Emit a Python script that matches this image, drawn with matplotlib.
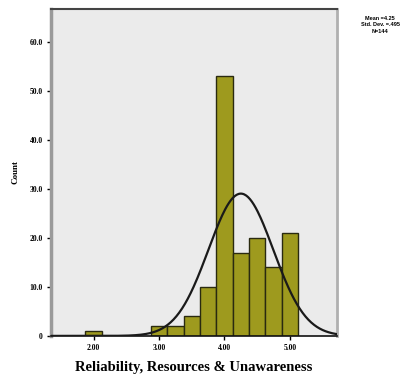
import numpy as np
import matplotlib
matplotlib.use('Agg')
import matplotlib.pyplot as plt

# histogram bins (centre values) and counts
bin_centers = [2.00, 3.00, 3.25, 3.50, 3.75, 4.00, 4.25, 4.50, 4.75, 5.00]
counts = [1, 2, 2, 4, 10, 53, 17, 20, 14, 21]
bin_width = 0.25

mean = 4.25
std = 0.495
n = 144

y_ticks = [0, 10, 20, 30, 40, 50, 60]
y_labels = ['0', '10.0', '20.0', '30.0', '40.0', '50.0', '60.0']
x_ticks = [2, 3, 4, 5]
x_labels = ['2.00', '3.00', '4.00', '5.00']

fig = plt.figure(figsize=(4.09, 3.83), dpi=100)
ax = fig.add_axes([0.125, 0.123, 0.699, 0.854])
ax.set_facecolor('#ebebeb')

ax.bar(bin_centers, counts, width=bin_width, color='#9e9a1e', edgecolor='#2a2a10', linewidth=1.0, zorder=2)

# normal curve
xs = np.linspace(1.35, 5.72, 300)
ys = n * bin_width / (std * np.sqrt(2 * np.pi)) * np.exp(-0.5 * ((xs - mean) / std) ** 2)
ax.plot(xs, ys, color='#1a1a1a', linewidth=1.6, zorder=3)

ax.set_xlim(1.35, 5.72)
ax.set_ylim(0, 66.7)
ax.set_xticks(x_ticks)
ax.set_xticklabels(x_labels, fontsize=5.5, fontweight='bold', family='Liberation Serif')
ax.set_yticks(y_ticks)
ax.set_yticklabels(y_labels, fontsize=5.5, fontweight='bold', family='Liberation Serif')
ax.tick_params(length=3, width=1, pad=3)

ax.spines['left'].set_color('#9a9a9a')
ax.spines['left'].set_linewidth(2.5)
ax.spines['top'].set_color('#444444')
ax.spines['top'].set_linewidth(1.5)
ax.spines['right'].set_color('#b0b0b0')
ax.spines['right'].set_linewidth(2)
ax.spines['bottom'].set_color('#111111')
ax.spines['bottom'].set_linewidth(1.2)

ax.set_ylabel('Count', fontsize=6.5, fontweight='bold', family='Liberation Serif', labelpad=7)
ax.set_xlabel('Reliability, Resources & Unawareness', fontsize=10.5, fontweight='bold',
              family='Liberation Serif', labelpad=6)

fig.text(0.93, 0.935, 'Mean =4.25\nStd. Dev. =.495\nN=144', fontsize=4, fontweight='bold',
         ha='center', va='center', family='Liberation Sans', linespacing=1.3)

fig.savefig('out.png', dpi=100)
